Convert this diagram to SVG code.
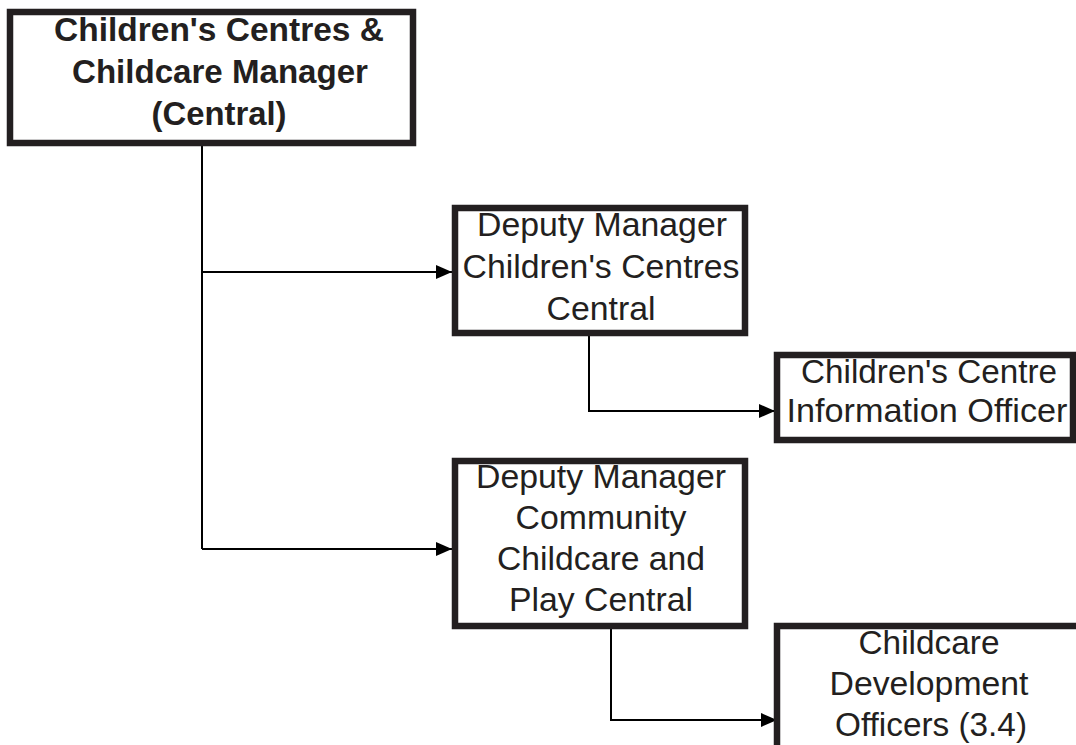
<svg xmlns="http://www.w3.org/2000/svg" width="1076" height="745" viewBox="0 0 1076 745">
<defs>
<style>
.box{fill:#fff;stroke:#231f20;stroke-width:6.5}
.t{font-family:"Liberation Sans",Arial,sans-serif;font-size:33px;fill:#231f20;text-anchor:middle}
.b{font-weight:bold}
.c{fill:none;stroke:#000;stroke-width:2}
</style>
<marker id="ah" markerUnits="userSpaceOnUse" markerWidth="17" markerHeight="15" refX="16" refY="7" orient="auto">
<path d="M0,0 L16,7 L0,14 z" fill="#000"/>
</marker>
</defs>
<rect width="1076" height="745" fill="#fff"/>
<g id="connectors">
<polyline class="c" points="202,146 202,549"/>
<polyline class="c" points="202,272 452,272" marker-end="url(#ah)"/>
<polyline class="c" points="202,549 452,549" marker-end="url(#ah)"/>
<polyline class="c" points="589,336 589,411 775,411" marker-end="url(#ah)"/>
<polyline class="c" points="611,629 611,720 777,720" marker-end="url(#ah)"/>
</g>
<g id="manager">
<rect class="box" x="10" y="12" width="403" height="131"/>
<text class="t b" x="219" y="41" textLength="330" lengthAdjust="spacingAndGlyphs">Children's Centres &amp;</text>
<text class="t b" x="220" y="83" textLength="296" lengthAdjust="spacingAndGlyphs">Childcare Manager</text>
<text class="t b" x="219" y="125" textLength="135" lengthAdjust="spacingAndGlyphs">(Central)</text>
</g>
<g id="deputy-centres">
<rect class="box" x="455" y="208" width="290" height="125"/>
<text class="t" x="602" y="236" textLength="250" lengthAdjust="spacingAndGlyphs">Deputy Manager</text>
<text class="t" x="601" y="278" textLength="277" lengthAdjust="spacingAndGlyphs">Children's Centres</text>
<text class="t" x="601" y="320" textLength="109" lengthAdjust="spacingAndGlyphs">Central</text>
</g>
<g id="info-officer">
<rect class="box" x="777" y="355" width="296" height="85"/>
<text class="t" x="929" y="383" textLength="256" lengthAdjust="spacingAndGlyphs">Children's Centre</text>
<text class="t" x="927" y="422" textLength="281" lengthAdjust="spacingAndGlyphs">Information Officer</text>
</g>
<g id="deputy-childcare">
<rect class="box" x="455" y="461" width="290" height="165"/>
<text class="t" x="601" y="488" textLength="250" lengthAdjust="spacingAndGlyphs">Deputy Manager</text>
<text class="t" x="601" y="529" textLength="171" lengthAdjust="spacingAndGlyphs">Community</text>
<text class="t" x="601" y="570" textLength="208" lengthAdjust="spacingAndGlyphs">Childcare and</text>
<text class="t" x="601" y="611" textLength="184" lengthAdjust="spacingAndGlyphs">Play Central</text>
</g>
<g id="dev-officers">
<rect class="box" x="777" y="626" width="330" height="150"/>
<text class="t" x="929" y="654" textLength="141" lengthAdjust="spacingAndGlyphs">Childcare</text>
<text class="t" x="929" y="695" textLength="199" lengthAdjust="spacingAndGlyphs">Development</text>
<text class="t" x="931" y="736" textLength="192" lengthAdjust="spacingAndGlyphs">Officers (3.4)</text>
</g>
</svg>
